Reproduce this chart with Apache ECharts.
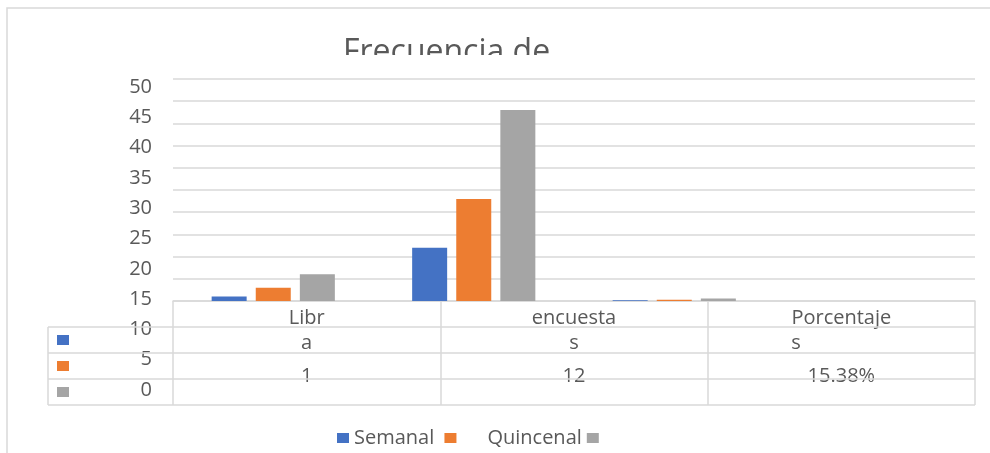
<!DOCTYPE html>
<html>
<head>
<meta charset="utf-8">
<script src="https://cdn.jsdelivr.net/npm/echarts@6/dist/echarts.min.js"></script>
<style>
  html, body { margin: 0; padding: 0; background: #fff; }
  #chart { width: 990px; height: 453px; }
</style>
</head>
<body>
<div id="chart"></div>
<script>
  // datos de la tabla / grafico
  const categories = ['Libra', 'encuestas', 'Porcentajes']
  const seriesNames = ['Semanal', 'Quincenal', 'Mensual']
  const legendLabels = ['Semanal ', '     Quincenal', '']
  const semanal = [1, 12, 0.1538]
  const quincenal = [3, 23, 0.2949]
  const mensual = [6, 43, 0.5513]
  const yMin = 0
  const yMax = 50
  const yStep = 5
  const colors = ['#4472c4', '#ed7d31', '#a5a5a5']

  const font = 'Open Sans'
  const textColor = '#595959'
  const lineColor = '#d9d9d9'

  // fila de valores visible en la tabla (Semanal)
  const tableRow = semanal.map((v, i) => i === 2 ? (v * 100).toFixed(2) + '%' : String(v))
  // el eje de barras tiene una categoria vacia al final
  const barCategories = categories.concat([''])

  const chart = echarts.init(document.getElementById('chart'))

  const seriesData = [semanal, quincenal, mensual]
  const series = seriesNames.map((name, i) => ({
    name: name,
    type: 'bar',
    xAxisIndex: 0,
    yAxisIndex: 0,
    barWidth: 35,
    barGap: '26%',
    itemStyle: { color: colors[i] },
    data: seriesData[i]
  }))

  // lineas de la tabla y cuadros de leyenda de las filas
  const tableTop = 301, rowH = 26, tableLeft = 48, tableRight = 975
  const graphic = [
    {
      type: 'rect', z: 0,
      shape: { x: 7, y: 8, width: 1100, height: 600 },
      style: { fill: null, stroke: lineColor, lineWidth: 1.5 }
    },
    {
      // el titulo aparece recortado
      type: 'rect', z: 100,
      shape: { x: 320, y: 55, width: 260, height: 22 },
      style: { fill: '#fff' }
    },
    {
      type: 'line', z: 10,
      shape: { x1: tableLeft, y1: tableTop + rowH, x2: tableLeft, y2: tableTop + rowH * 4 },
      style: { stroke: lineColor, lineWidth: 1.5 }
    }
  ]
  for (let r = 1; r <= 4; r++) {
    graphic.push({
      type: 'line', z: 10,
      shape: { x1: tableLeft, y1: tableTop + rowH * r, x2: tableRight, y2: tableTop + rowH * r },
      style: { stroke: lineColor, lineWidth: 1.5 }
    })
  }
  colors.forEach((c, i) => {
    graphic.push({
      type: 'rect', z: 10,
      shape: { x: 57, y: tableTop + rowH * (i + 1) + 8, width: 12, height: 10 },
      style: { fill: c }
    })
  })

  const option = {
    animation: false,
    title: {
      text: 'Frecuencia de',
      left: 343,
      top: 37,
      padding: 0,
      textStyle: { fontFamily: font, fontSize: 32, fontWeight: 'normal', color: textColor }
    },
    legend: {
      data: seriesNames,
      left: 337,
      top: 428,
      padding: 0,
      icon: 'rect',
      itemWidth: 12,
      itemHeight: 10,
      itemGap: 5,
      formatter: (name) => legendLabels[seriesNames.indexOf(name)],
      textStyle: { fontFamily: font, fontSize: 20, color: textColor }
    },
    grid: [
      { left: 173, top: 79, width: 802, height: 222 },
      { left: 160, top: 87, width: 1, height: 303 },
      { left: 173, top: 301, width: 802, height: 104 }
    ],
    xAxis: [
      {
        gridIndex: 0,
        type: 'category',
        data: barCategories,
        axisLine: { lineStyle: { color: lineColor, width: 1.5 } },
        axisTick: { show: false },
        axisLabel: { show: false }
      },
      { gridIndex: 1, type: 'value', show: false },
      {
        gridIndex: 2,
        type: 'category',
        position: 'top',
        data: categories,
        axisLine: { show: false },
        axisTick: { show: false },
        splitLine: {
          show: true,
          interval: 0,
          lineStyle: { color: lineColor, width: 1.5 }
        },
        axisLabel: {
          inside: true,
          interval: 0,
          margin: 5,
          fontFamily: font,
          fontSize: 20,
          lineHeight: 25,
          color: textColor,
          formatter: (v, i) => {
            if (i === 0) return 'Libr\na'
            if (i === 1) return 'encuesta\ns'
            return 'Porcentaje\n{s|s}'
          },
          rich: {
            s: { width: 100, align: 'left', fontFamily: font, fontSize: 20, lineHeight: 25, color: textColor }
          }
        }
      },
      {
        gridIndex: 2,
        type: 'category',
        position: 'bottom',
        data: tableRow,
        axisLine: { show: false },
        axisTick: { show: false },
        axisLabel: {
          inside: true,
          interval: 0,
          margin: 16,
          fontFamily: font,
          fontSize: 20,
          lineHeight: 25,
          color: textColor
        }
      }
    ],
    yAxis: [
      {
        gridIndex: 0,
        type: 'value',
        min: yMin,
        max: yMax,
        interval: yStep,
        axisLine: { show: false },
        axisTick: { show: false },
        axisLabel: { show: false },
        splitLine: { lineStyle: { color: lineColor, width: 1.5 } }
      },
      {
        gridIndex: 1,
        type: 'value',
        min: yMin,
        max: yMax,
        interval: yStep,
        axisLine: { show: false },
        axisTick: { show: false },
        splitLine: { show: false },
        axisLabel: { margin: 8, fontFamily: font, fontSize: 20, color: textColor }
      },
      { gridIndex: 2, type: 'value', show: false }
    ],
    graphic: graphic,
    series: series
  }

  chart.setOption(option)
</script>
</body>
</html>
